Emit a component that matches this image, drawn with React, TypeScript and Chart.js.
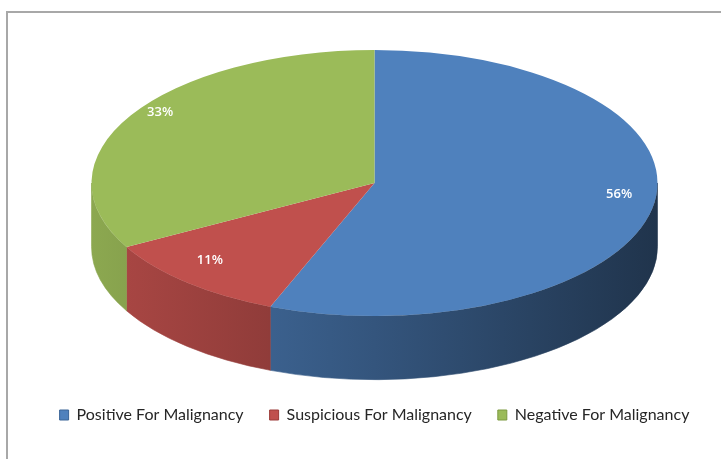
import React, { useEffect, useRef } from "react";
import { Chart, registerables } from "chart.js";

Chart.register(...registerables);

const categories = [
  "Positive For Malignancy",
  "Suspicious For Malignancy",
  "Negative For Malignancy",
];
const shares = [56, 11, 33];
const sliceColors = ["#4F81BD", "#C0504D", "#9BBB59"];
const edgeColors = ["#3A6597", "#9B3B38", "#7C9A40"];

const WIDTH_SHARE = 0.8167; // pie width relative to the chart area width
const TILT = 0.47; // vertical / horizontal radius of the top face
const DEPTH = 0.225; // wall height relative to horizontal radius
const LABEL_FRACTION = 0.88;
const LABEL_LIFT = 0.08; // perspective lift of label centre, relative to ry

function shade(hex: string, f: number): string {
  const n = parseInt(hex.slice(1), 16);
  const r = Math.round(((n >> 16) & 255) * f);
  const g = Math.round(((n >> 8) & 255) * f);
  const b = Math.round((n & 255) * f);
  return `rgb(${r},${g},${b})`;
}

function geometry(chart: any) {
  const ca = chart.chartArea;
  const cx = (ca.left + ca.right) / 2;
  const rx = ((ca.right - ca.left) * WIDTH_SHARE) / 2;
  const ry = rx * TILT;
  const cy = ca.top + ry;
  const depth = rx * DEPTH;
  return { cx, cy, rx, ry, depth };
}

const pie3d = {
  id: "pie3d",
  beforeDatasetsDraw(chart: any) {
    const meta = chart.getDatasetMeta(0);
    const ctx = chart.ctx as CanvasRenderingContext2D;
    const { cx, cy, rx, ry, depth } = geometry(chart);
    const TWO_PI = Math.PI * 2;
    meta.data.forEach((arc: any, i: number) => {
      const { startAngle, endAngle } = arc.getProps(["startAngle", "endAngle"], true);
      for (let k = -1; k <= 1; k++) {
        const lo = Math.max(startAngle, k * TWO_PI);
        const hi = Math.min(endAngle, k * TWO_PI + Math.PI);
        if (hi <= lo) continue;
        const grad = ctx.createLinearGradient(cx - rx, 0, cx + rx, 0);
        grad.addColorStop(0, shade(sliceColors[i], 0.9));
        grad.addColorStop(0.5, shade(sliceColors[i], 0.66));
        grad.addColorStop(1, shade(sliceColors[i], 0.4));
        ctx.save();
        ctx.beginPath();
        ctx.ellipse(cx, cy, rx, ry, 0, lo, hi, false);
        ctx.lineTo(cx + rx * Math.cos(hi), cy + depth + ry * Math.sin(hi));
        ctx.ellipse(cx, cy + depth, rx, ry, 0, hi, lo, true);
        ctx.closePath();
        ctx.fillStyle = grad;
        ctx.fill();
        ctx.strokeStyle = grad;
        ctx.lineWidth = 0.6;
        ctx.stroke();
        ctx.restore();
      }
    });
    const first = meta.data[0];
    const R = first.outerRadius;
    ctx.save();
    ctx.translate(cx, cy);
    ctx.scale(rx / R, ry / R);
    ctx.translate(-first.x, -first.y);
  },
  afterDatasetsDraw(chart: any) {
    const ctx = chart.ctx as CanvasRenderingContext2D;
    ctx.restore();
    const meta = chart.getDatasetMeta(0);
    const { cx, cy, rx, ry } = geometry(chart);
    const total = shares.reduce((a, b) => a + b, 0);
    ctx.save();
    ctx.fillStyle = "#ffffff";
    ctx.font = "600 13px 'Open Sans', sans-serif";
    ctx.textAlign = "center";
    ctx.textBaseline = "middle";
    meta.data.forEach((arc: any, i: number) => {
      const { startAngle, endAngle } = arc.getProps(["startAngle", "endAngle"], true);
      const mid = (startAngle + endAngle) / 2;
      const x = cx + rx * LABEL_FRACTION * Math.cos(mid);
      const y = cy - ry * LABEL_LIFT + ry * LABEL_FRACTION * Math.sin(mid);
      ctx.fillText(Math.round((shares[i] / total) * 100) + "%", x, y);
    });
    ctx.restore();
  },
};

export default function App() {
  const ref = useRef<HTMLCanvasElement | null>(null);
  useEffect(() => {
    if (!ref.current) return;
    const chart = new Chart(ref.current, {
      type: "pie",
      data: {
        labels: categories,
        datasets: [
          {
            data: shares,
            backgroundColor: sliceColors,
            borderWidth: 0,
            clip: false as any,
          },
        ],
      },
      options: {
        animation: false,
        responsive: true,
        maintainAspectRatio: false,
        layout: { padding: { top: 50, left: 28, right: 0, bottom: 26 } },
        plugins: {
          tooltip: { enabled: false },
          legend: {
            position: "bottom",
            labels: {
              boxWidth: 9,
              boxHeight: 10,
              padding: 26,
              color: "#262626",
              font: { family: "Lato, 'Open Sans', sans-serif", size: 16 },
              generateLabels: () =>
                categories.map((text, i) => ({
                  text,
                  fillStyle: sliceColors[i],
                  strokeStyle: edgeColors[i],
                  lineWidth: 1,
                  hidden: false,
                  index: i,
                  fontColor: "#262626",
                })),
            },
          },
        },
      },
      plugins: [pie3d],
    });
    return () => chart.destroy();
  }, []);
  return (
    <div style={{ position: "fixed", left: 0, top: 0, width: 721, height: 459, background: "#fff" }}>
      <div
        style={{
          position: "absolute",
          left: 6,
          top: 11,
          width: 760,
          height: 500,
          borderLeft: "2px solid #a8a8a8",
          borderTop: "2px solid #a8a8a8",
        }}
      />
      <canvas ref={ref} style={{ position: "absolute", left: 0, top: 0, width: 721, height: 459 }} />
    </div>
  );
}
